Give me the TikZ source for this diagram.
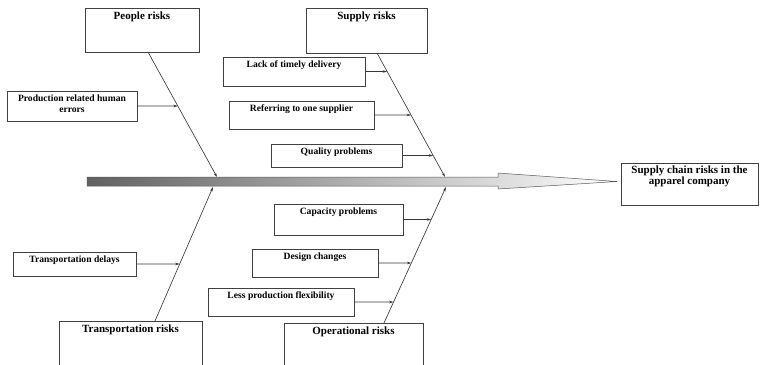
\documentclass[tikz,border=0pt]{standalone}
\usepackage{fontspec}
\setmainfont{Liberation Serif}
\usetikzlibrary{arrows.meta,shadows}

% box: [style]{name}{x1}{y1}{x2}{y2}{text}, corners in pixel units (y grows downward)
\newcommand\riskbox[7][small]{%
  \node[box, minimum width={(#5-#3)*1pt}, minimum height={(#6-#4)*1pt},
        anchor=north west,
        label={[boxtext,#1]north:#7}] (#2) at (#3,#4) {};}

\begin{document}
\begin{tikzpicture}[x=1pt,y=-1pt,
  box/.style={draw=black!75, line width=0.6pt, inner sep=0pt, outer sep=0pt},
  boxtext/.style={anchor=north, inner sep=0pt, yshift=-4pt, align=center},
  small/.style={font=\fontsize{9.6}{11}\selectfont\bfseries},
  head/.style={font=\fontsize{11}{11.5}\selectfont\bfseries},
  bone/.style={draw=black!78, line width=0.65pt, -{Stealth[length=4.5pt,width=2.6pt]}},
  sub/.style={draw=black!78, line width=0.65pt, -{Stealth[length=4.5pt,width=2.6pt]}}]

\clip (0,0) rectangle (760,364);
\useasboundingbox (0,0) rectangle (760,364);

% main spine with its hollow head
\coordinate (tailTop) at (87,177);
\coordinate (tailBot) at (87,186);
\coordinate (head) at (617,181.5);
\path[draw=black!65, line width=0.5pt, left color=black!62, middle color=black!17, right color=white]
  (tailTop) -- (498,177) -- (498,173) -- (head) -- (498,189) -- (498,186) -- (tailBot) -- cycle;

% effect
\node[box, minimum width=137pt, minimum height=42pt, anchor=north west,
      drop shadow={shadow xshift=1.2pt, shadow yshift=-1.2pt, fill=black!45, opacity=1},
      fill=white,
      label={[boxtext,head,yshift=1.5pt]north:Supply chain risks in the\\apparel company}]
      (effect) at (621,163) {};

% category boxes
\riskbox[head]{people}{85}{8}{199}{52}{People risks}
\riskbox[head]{supply}{306}{8}{427}{53}{Supply risks}
\riskbox[head]{transr}{59}{321}{202}{390}{Transportation risks}
\riskbox[head]{oper}{284}{323}{423}{390}{Operational risks}

% cause boxes
\riskbox{prod}{7}{91}{137}{121}{Production related human\\errors}
\riskbox{lack}{223}{57}{365}{86}{Lack of timely delivery}
\riskbox{refer}{229}{101}{374}{129}{Referring to one supplier}
\riskbox{quality}{271}{144}{402}{167}{Quality problems}
\riskbox{transd}{13}{252}{136}{276}{Transportation delays}
\riskbox{capacity}{274}{204}{403}{235}{Capacity problems}
\riskbox{design}{252}{249}{378}{277}{Design changes}
\riskbox{less}{208}{288}{354}{316}{Less production flexibility}

% bones meeting the spine
\coordinate (pStart) at ([xshift=6pt]people.south);
\coordinate (sStart) at ([xshift=10.5pt]supply.south);
\coordinate (tStart) at ([xshift=24.5pt]transr.north);
\coordinate (oStart) at ([xshift=30.5pt]oper.north);
\coordinate (pTip) at (217,177);
\coordinate (sTip) at (445,177);
\coordinate (tTip) at (213,187);
\coordinate (oTip) at (446,187);

\draw[bone] (pStart) -- (pTip);
\draw[bone] (sStart) -- (sTip);
\draw[bone] (tStart) -- (tTip);
\draw[bone] (oStart) -- (oTip);

% cause arrows ending on their bone
\foreach \c/\a/\b in {prod/pStart/pTip, lack/sStart/sTip, refer/sStart/sTip,
                      quality/sStart/sTip, transd/tStart/tTip,
                      capacity/oStart/oTip, design/oStart/oTip, less/oStart/oTip}
  \draw[sub] (\c.east) -- (intersection cs: first line={(\a)--(\b)},
                           second line={(\c.east)--([xshift=1pt]\c.east)});
\end{tikzpicture}
\end{document}
